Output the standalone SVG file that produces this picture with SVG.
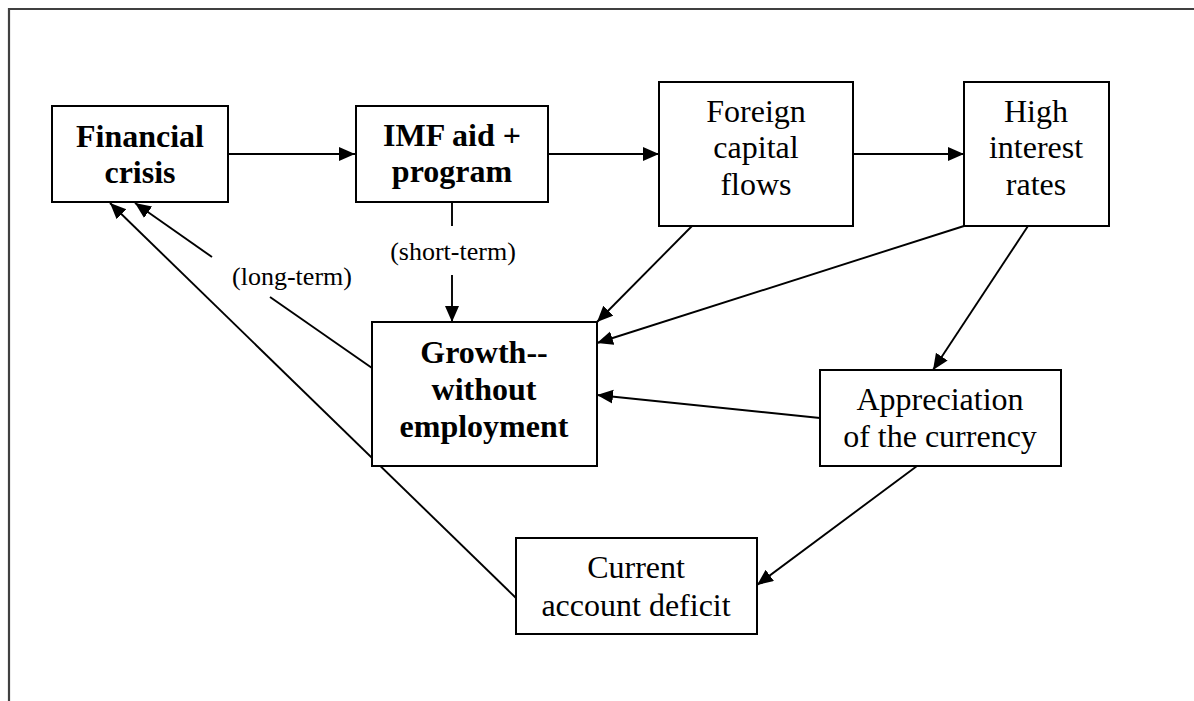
<svg xmlns="http://www.w3.org/2000/svg" width="1194" height="701" viewBox="0 0 1194 701">
<style>
.box{fill:#fff;stroke:#000;stroke-width:2}
.t{font-family:"Liberation Serif","Times New Roman",serif;font-size:32px;fill:#000;text-anchor:middle}
.b{font-weight:bold}
.lbl{font-family:"Liberation Serif","Times New Roman",serif;font-size:26px;fill:#000;text-anchor:middle}
.c{stroke:#000;stroke-width:1.9;fill:none}
.a{marker-end:url(#ah)}
</style>
<defs>
<marker id="ah" markerUnits="userSpaceOnUse" markerWidth="18" markerHeight="16" refX="16" refY="7" orient="auto">
<path d="M0,0 L16,7 L0,14 z" fill="#000"/>
</marker>
</defs>
<rect width="1194" height="701" fill="#fff"/>
<path d="M9,701 V9 H1194" fill="none" stroke="#404040" stroke-width="2.2"/>
<g id="connectors">
<line class="c a" x1="228" y1="154" x2="355" y2="154"/>
<line class="c a" x1="548" y1="154" x2="659" y2="154"/>
<line class="c a" x1="853" y1="154" x2="964" y2="154"/>
<line class="c" x1="452" y1="202" x2="452" y2="226"/>
<line class="c a" x1="452" y1="275" x2="452" y2="322"/>
<line class="c a" x1="692" y1="226" x2="597" y2="322"/>
<line class="c a" x1="964" y1="226" x2="597" y2="343"/>
<line class="c a" x1="1028" y1="226" x2="933" y2="370"/>
<line class="c a" x1="820" y1="418" x2="597" y2="395"/>
<line class="c a" x1="917" y1="466" x2="757" y2="585"/>
<line class="c a" x1="516" y1="598" x2="110" y2="203"/>
<line class="c" x1="372" y1="368" x2="270" y2="297"/>
<line class="c a" x1="212" y1="257" x2="135" y2="203"/>
<text class="lbl" x="453" y="260">(short-term)</text>
<text class="lbl" x="292" y="285">(long-term)</text>
</g>
<g id="financial-crisis">
<rect class="box" x="52" y="106" width="176" height="96"/>
<text class="t b" x="140" y="147">Financial</text>
<text class="t b" x="140" y="183">crisis</text>
</g>
<g id="imf-aid">
<rect class="box" x="356" y="106" width="192" height="96"/>
<text class="t b" x="452" y="146">IMF aid +</text>
<text class="t b" x="452" y="182">program</text>
</g>
<g id="foreign-capital">
<rect class="box" x="659" y="82" width="194" height="144"/>
<text class="t" x="756" y="122">Foreign</text>
<text class="t" x="756" y="158">capital</text>
<text class="t" x="756" y="195">flows</text>
</g>
<g id="high-interest">
<rect class="box" x="964" y="82" width="145" height="144"/>
<text class="t" x="1036" y="122">High</text>
<text class="t" x="1036" y="158">interest</text>
<text class="t" x="1036" y="195">rates</text>
</g>
<g id="growth">
<rect class="box" x="372" y="322" width="225" height="144"/>
<text class="t b" x="484" y="363">Growth--</text>
<text class="t b" x="484" y="400">without</text>
<text class="t b" x="484" y="437">employment</text>
</g>
<g id="appreciation">
<rect class="box" x="820" y="370" width="241" height="96"/>
<text class="t" x="940" y="410">Appreciation</text>
<text class="t" x="940" y="447">of the currency</text>
</g>
<g id="current-account">
<rect class="box" x="516" y="538" width="241" height="96"/>
<text class="t" x="636" y="578">Current</text>
<text class="t" x="636" y="616">account deficit</text>
</g>
</svg>
